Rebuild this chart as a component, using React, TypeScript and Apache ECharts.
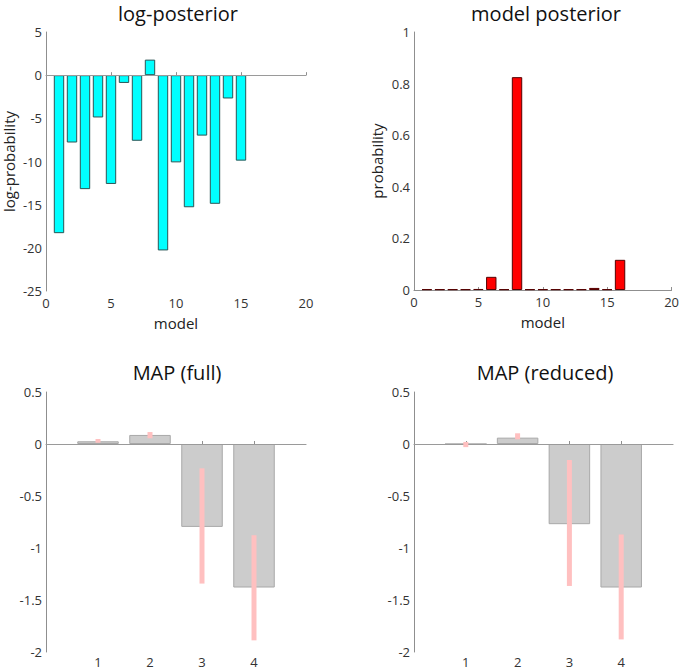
import React, { useEffect, useRef } from 'react';
import * as echarts from 'echarts';

const logModels = [1, 2, 3, 4, 5, 6, 7, 8, 9, 10, 11, 12, 13, 14, 15];
const logPosterior = [-18.3, -7.8, -13.2, -4.9, -12.6, -0.9, -7.6, 1.8, -20.3, -10.1, -15.3, -7.0, -14.9, -2.7, -9.9];

const postModels = [1, 2, 3, 4, 5, 6, 7, 8, 9, 10, 11, 12, 13, 14, 15, 16];
const modelPosterior = [0.003, 0.003, 0.003, 0.003, 0.004, 0.051, 0.003, 0.825, 0.003, 0.003, 0.003, 0.003, 0.003, 0.008, 0.003, 0.117];

const mapParams = [1, 2, 3, 4];
const mapFull = [0.026, 0.087, -0.797, -1.38];
const mapFullErrLow = [0.012, 0.055, -1.342, -1.888];
const mapFullErrHigh = [0.048, 0.115, -0.234, -0.877];
const mapReduced = [0, 0.061, -0.771, -1.38];
const mapReducedErrLow = [-0.03, 0.045, -1.365, -1.879];
const mapReducedErrHigh = [0.02, 0.103, -0.154, -0.87];

const FONT = '"Open Sans", "Noto Sans", sans-serif';
const AXIS_GRAY = '#8f8f8f';
const LABEL = '#333333';

function xAxisNum(gridIndex: number, max: number, interval: number, name: string, labelVals?: number[]) {
  const ax: any = {
    type: 'value',
    gridIndex,
    min: 0,
    max,
    interval,
    name,
    nameLocation: 'middle',
    nameGap: 24,
    nameTextStyle: { fontFamily: FONT, fontSize: 15, color: '#222' },
    axisLine: { show: true, lineStyle: { color: AXIS_GRAY, width: 1 } },
    axisTick: { show: true, inside: true, length: 3, lineStyle: { color: AXIS_GRAY } },
    axisLabel: { fontFamily: FONT, fontSize: 13, color: LABEL, margin: labelVals ? 3 : 5 },
    splitLine: { show: false },
  };
  if (labelVals) {
    ax.axisTick.customValues = labelVals;
    ax.axisLabel.customValues = labelVals;
  }
  return ax;
}

function yAxisNum(gridIndex: number, min: number, max: number, interval: number, name: string) {
  return {
    type: 'value',
    gridIndex,
    min,
    max,
    interval,
    name,
    nameLocation: 'middle',
    nameGap: 30,
    nameTextStyle: { fontFamily: FONT, fontSize: 15, color: '#222' },
    axisLine: { show: true, lineStyle: { color: AXIS_GRAY, width: 1 } },
    axisTick: { show: false },
    axisLabel: { fontFamily: FONT, fontSize: 13, color: LABEL, margin: 4 },
    splitLine: { show: false },
  };
}

const zeroLine = {
  silent: true,
  symbol: 'none',
  label: { show: false },
  lineStyle: { color: '#9a9a9a', type: 'solid', width: 1 },
  data: [{ yAxis: 0 }],
};

function errSeries(xIdx: number, lows: number[], highs: number[]) {
  return {
    type: 'custom',
    xAxisIndex: xIdx,
    yAxisIndex: xIdx,
    z: 5,
    encode: { x: 0, y: [1, 2] },
    data: mapParams.map((p, i) => [p, lows[i], highs[i]]),
    renderItem: (_params: any, api: any) => {
      const x = api.value(0);
      const p1 = api.coord([x, api.value(1)]);
      const p2 = api.coord([x, api.value(2)]);
      return {
        type: 'line',
        shape: { x1: p1[0], y1: p1[1], x2: p2[0], y2: p2[1] },
        style: { stroke: '#ffc0c0', lineWidth: 5 },
      };
    },
  };
}

function titleText(text: string, x: number, y: number) {
  return {
    type: 'text',
    x,
    y,
    style: {
      text,
      fill: '#111',
      fontSize: 20,
      fontFamily: FONT,
      textAlign: 'center',
      textVerticalAlign: 'top',
    },
  };
}

export default function App() {
  const ref = useRef<HTMLDivElement>(null);
  useEffect(() => {
    if (!ref.current) return;
    const chart = echarts.init(ref.current, undefined, { renderer: 'svg' });
    const option: any = {
      animation: false,
      backgroundColor: '#ffffff',
      grid: [
        { left: 46, top: 32, width: 260, height: 259 },
        { left: 414, top: 32, width: 259, height: 258 },
        { left: 46, top: 392, width: 260, height: 260 },
        { left: 414, top: 392, width: 259, height: 260 },
      ],
      xAxis: [
        xAxisNum(0, 20, 5, 'model'),
        xAxisNum(1, 20, 5, 'model'),
        xAxisNum(2, 5, 1, '', mapParams),
        xAxisNum(3, 5, 1, '', mapParams),
      ],
      yAxis: [
        yAxisNum(0, -25, 5, 5, 'log-probability'),
        yAxisNum(1, 0, 1, 0.2, 'probability'),
        yAxisNum(2, -2, 0.5, 0.5, ''),
        yAxisNum(3, -2, 0.5, 0.5, ''),
      ],
      graphic: [
        titleText('log-posterior', 178, 3),
        titleText('model posterior', 546, 3),
        titleText('MAP (full)', 177, 362),
        titleText('MAP (reduced)', 545, 362),
      ],
      series: [
        {
          type: 'bar',
          xAxisIndex: 0,
          yAxisIndex: 0,
          barWidth: 10.4,
          data: logModels.map((m, i) => [m, logPosterior[i]]),
          itemStyle: { color: '#00ffff', borderColor: '#2b5555', borderWidth: 1 },
          markLine: zeroLine,
        },
        {
          type: 'bar',
          xAxisIndex: 1,
          yAxisIndex: 1,
          barWidth: 10.4,
          data: postModels.map((m, i) => [m, modelPosterior[i]]),
          itemStyle: { color: '#ff0000', borderColor: '#550000', borderWidth: 1 },
        },
        {
          type: 'bar',
          xAxisIndex: 2,
          yAxisIndex: 2,
          barWidth: 41.5,
          data: mapParams.map((m, i) => [m, mapFull[i]]),
          itemStyle: { color: '#cccccc', borderColor: '#a8a8a8', borderWidth: 1 },
          markLine: zeroLine,
        },
        errSeries(2, mapFullErrLow, mapFullErrHigh),
        {
          type: 'bar',
          xAxisIndex: 3,
          yAxisIndex: 3,
          barWidth: 41.5,
          data: mapParams.map((m, i) => [m, mapReduced[i]]),
          itemStyle: { color: '#cccccc', borderColor: '#a8a8a8', borderWidth: 1 },
          markLine: zeroLine,
        },
        errSeries(3, mapReducedErrLow, mapReducedErrHigh),
      ],
    };
    chart.setOption(option);
    return () => chart.dispose();
  }, []);
  return (
    <div
      ref={ref}
      style={{ position: 'absolute', left: 0, top: 0, width: 682, height: 669, background: '#fff' }}
    />
  );
}
